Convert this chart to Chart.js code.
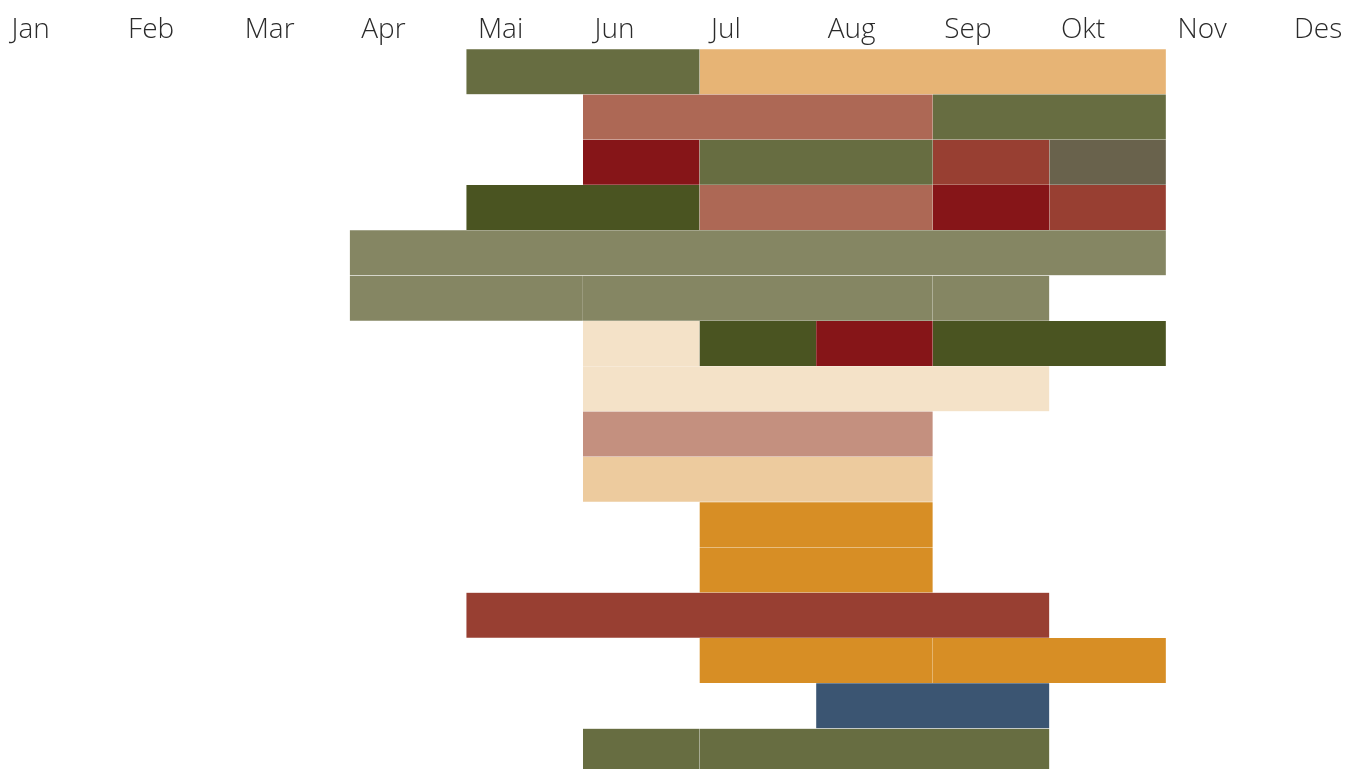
<!DOCTYPE html>
<html>
<head>
<meta charset="utf-8">
<script src="https://cdn.jsdelivr.net/npm/chart.js@4.4.1/dist/chart.umd.min.js"></script>
<style>
  html, body { margin: 0; padding: 0; background: #fff; overflow: hidden; }
  #wrap { width: 1346px; height: 769px; }
</style>
</head>
<body>
<div id="wrap"><canvas id="c"></canvas></div>
<script>
// month labels along the top
var months = ['Jan', 'Feb', 'Mar', 'Apr', 'Mai', 'Jun', 'Jul', 'Aug', 'Sep', 'Okt', 'Nov', 'Des'];

// one row per line in the calendar (names not shown in the picture)
var rows = [1, 2, 3, 4, 5, 6, 7, 8, 9, 10, 11, 12, 13, 14, 15, 16];

// each series: [row, first month, end month] (0 = start of Jan)
var oliven    = [[1, 4, 6], [2, 8, 10], [3, 6, 8], [16, 5, 6], [16, 6, 9]];
var gyllen    = [[1, 6, 10]];
var rust      = [[2, 5, 8], [4, 6, 8]];
var mørkrød   = [[3, 5, 6], [4, 8, 9], [7, 7, 8]];
var teglrød   = [[3, 8, 9], [4, 9, 10], [13, 4, 9]];
var gråbrun   = [[3, 9, 10]];
var mosegrønn = [[4, 4, 6], [7, 6, 7], [7, 8, 10]];
var salvie    = [[5, 3, 10], [6, 3, 5], [6, 5, 8], [6, 8, 9]];
var krem      = [[7, 5, 6], [8, 5, 9]];
var rosa      = [[9, 5, 8]];
var lysbeige  = [[10, 5, 8]];
var oransje   = [[11, 6, 8], [12, 6, 8], [14, 6, 8], [14, 8, 10]];
var blå       = [[15, 7, 9]];

var series = [
    { name: 'oliven', data: oliven, color: '#676D41' },
    { name: 'gyllen', data: gyllen, color: '#E7B475' },
    { name: 'rust', data: rust, color: '#AD6855' },
    { name: 'mørkrød', data: mørkrød, color: '#861518' },
    { name: 'teglrød', data: teglrød, color: '#983F32' },
    { name: 'gråbrun', data: gråbrun, color: '#69624C' },
    { name: 'mosegrønn', data: mosegrønn, color: '#4A5421' },
    { name: 'salvie', data: salvie, color: '#858663' },
    { name: 'krem', data: krem, color: '#F4E2C8' },
    { name: 'rosa', data: rosa, color: '#C4907F' },
    { name: 'lysbeige', data: lysbeige, color: '#EDCB9E' },
    { name: 'oransje', data: oransje, color: '#D78E25' },
    { name: 'blå', data: blå, color: '#3B5572' }
];

var datasets = series.map(function(s) {
    return {
        label: s.name,
        data: s.data.map(function(d) { return { y: d[0] - 0.5, x: [d[1], d[2]] }; }),
        backgroundColor: s.color,
        borderColor: 'rgba(255,255,255,0.06)',
        borderWidth: 0.5,
        grouped: false,
        barPercentage: 1,
        categoryPercentage: 1
    };
});

var ctx = document.getElementById('c').getContext('2d');
var chart = new Chart(ctx, {
    type: 'bar',
    data: { datasets: datasets },
    options: {
        indexAxis: 'y',
        responsive: true,
        maintainAspectRatio: false,
        animation: false,
        layout: { padding: 0 },
        plugins: { legend: { display: false }, tooltip: { enabled: false } },
        scales: {
            x: {
                type: 'linear',
                position: 'top',
                min: 0,
                max: 1346 / 116.6,
                grid: { display: false, drawTicks: false },
                border: { display: false },
                afterBuildTicks: function(scale) {
                    scale.ticks = months.map(function(m, i) { return { value: i }; });
                },
                afterFit: function(scale) {
                    // month grid starts right at the left edge
                    scale.height = 49;
                    scale.paddingLeft = 0;
                    scale.paddingRight = 0;
                },
                ticks: {
                    align: 'start',
                    labelOffset: 11.5,
                    padding: 2,
                    autoSkip: false,
                    maxRotation: 0,
                    color: '#2b2b2b',
                    font: { family: '"Open Sans", "Noto Sans", sans-serif', size: 28, weight: 300 },
                    callback: function(v) { return months[v]; }
                }
            },
            y: {
                type: 'linear',
                reverse: true,
                offset: false,
                min: 0,
                max: 720 / 45.3,
                display: false,
                grid: { offset: false },
                afterBuildTicks: function(scale) {
                    scale.ticks = rows.map(function(r, i) { return { value: i }; });
                }
            }
        }
    }
});
</script>
</body>
</html>
